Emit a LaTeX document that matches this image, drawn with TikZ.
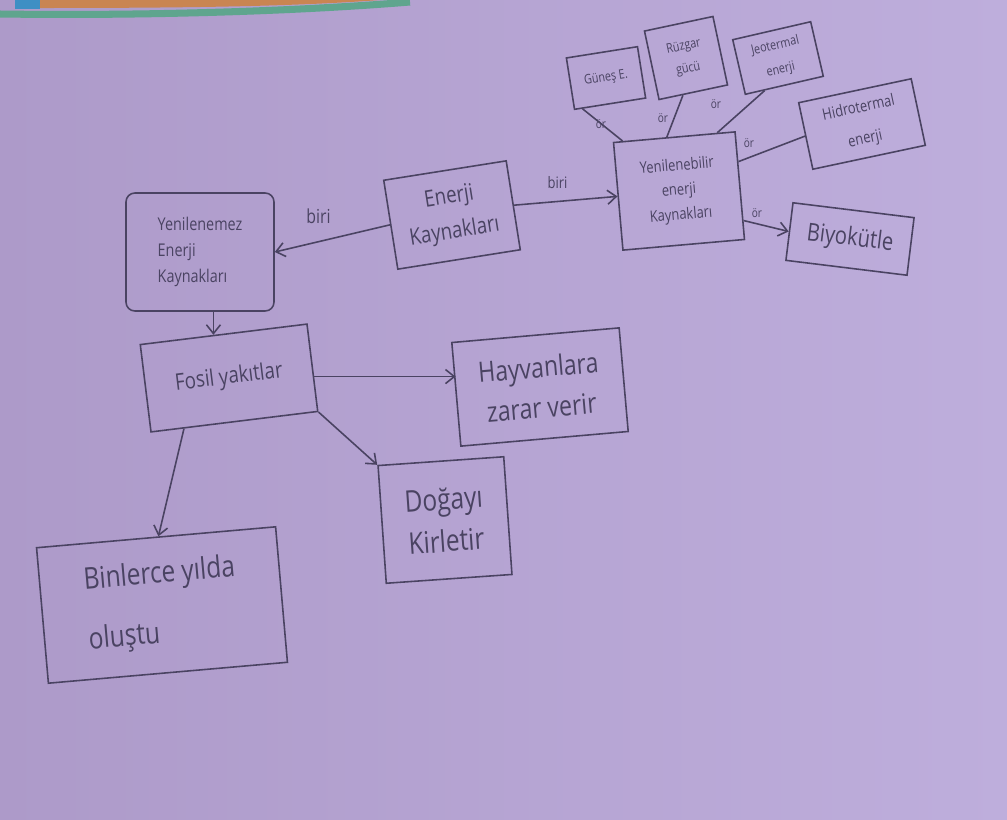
\documentclass[tikz,border=0pt]{standalone}
\usepackage{fontspec}
\setmainfont{Open Sans}[FakeStretch=0.82]
\usetikzlibrary{arrows.meta,calc}
\definecolor{paper}{HTML}{B6A5D4}
\definecolor{paperL}{HTML}{AD9AC9}
\definecolor{paperR}{HTML}{BEAEDC}
\definecolor{ink}{HTML}{4A4362}
\definecolor{tapeO}{HTML}{C98552}
\definecolor{tapeG}{HTML}{5FA58E}
\definecolor{tapeB}{HTML}{3E8FC4}
\begin{document}
\begin{tikzpicture}[x=0.02cm,y=-0.02cm,
  pen/.style={draw=ink, line width=0.9pt},
  box/.style={pen, rectangle, inner sep=2pt, align=center, text=ink},
  link/.style={pen},
  arr/.style={pen, -{Straight Barb[length=5pt,width=8pt]}},
  lbl/.style={text=ink, inner sep=1pt}]
\useasboundingbox (0,0) rectangle (1007,819);
% paper
\shade[left color=paperL, right color=paperR] (0,0) rectangle (1007,819);
% strip of the folder along the top edge
\fill[tapeO] (40,0) -- (380,0) .. controls (300,6) and (200,8) .. (40,8) -- cycle;
\fill[tapeB] (15,0) rectangle (40,9);
\draw[tapeG, line width=4pt] (0,14) .. controls (150,16) and (300,11) .. (410,2);

% main concept boxes
\node[box, rounded corners=5pt, minimum width=2.96cm, minimum height=2.36cm,
      font=\fontsize{10}{15}\selectfont, align=left] (yn) at (200,252)
      {Yenilenemez\\Enerji\\Kaynakları};
\node[box, rotate=9, minimum width=2.48cm, minimum height=1.8cm,
      font=\fontsize{13}{20}\selectfont] (ek) at (452,215) {Enerji\\Kaynakları};
\node[box, rotate=5, minimum width=2.44cm, minimum height=2.16cm,
      font=\fontsize{9}{14}\selectfont] (yb) at (679,191)
      {Yenilenebilir\\enerji\\Kaynakları};

% renewable examples
\node[box, rotate=9, minimum width=1.44cm, minimum height=1.04cm,
      font=\fontsize{7.5}{9}\selectfont] (gu) at (606,78) {Güneş E.};
\node[box, rotate=12, minimum width=1.4cm, minimum height=1.4cm,
      font=\fontsize{7.5}{13}\selectfont] (ru) at (686,58) {Rüzgar\\gücü};
\node[box, rotate=13, minimum width=1.6cm, minimum height=1.12cm,
      font=\fontsize{7.5}{14}\selectfont] (je) at (778,58) {Jeotermal\\enerji};
\node[box, rotate=12, minimum width=2.3cm, minimum height=1.36cm,
      font=\fontsize{9}{18}\selectfont] (hi) at (862,124) {Hidrotermal\\enerji};
\node[box, rotate=-7, minimum width=2.44cm, minimum height=1.16cm,
      font=\fontsize{14}{16}\selectfont] (bi) at (850,239) {Biyokütle};

% fossil fuels branch
\node[box, rotate=7, minimum width=3.36cm, minimum height=1.76cm,
      font=\fontsize{13}{16}\selectfont] (fo) at (229,378) {Fosil yakıtlar};
\node[box, rotate=5, minimum width=3.36cm, minimum height=2.08cm,
      font=\fontsize{16}{23}\selectfont] (ha) at (540,387) {Hayvanlara\\zarar verir};
\node[box, rotate=4, minimum width=2.52cm, minimum height=2.36cm,
      font=\fontsize{17}{24}\selectfont] (do) at (445,520) {Doğayı\\Kirletir};
\node[box, rotate=5, minimum width=4.8cm, minimum height=2.72cm,
      font=\fontsize{17}{34}\selectfont, align=left] (bn) at (162,605)
      {Binlerce yılda\\oluştu};

% top level links
\draw[arr] (ek.west) -- node[lbl, pos=0.62, above=9pt, font=\fontsize{11}{13}\selectfont] {biri} (yn.east);
\draw[arr] (ek.east) -- node[lbl, pos=0.42, above=6pt, font=\fontsize{9}{11}\selectfont] {biri} (yb.west);

% examples of renewable sources
\coordinate (ybA) at ($(yb.north west)!0.08!(yb.north east)$);
\coordinate (ybB) at ($(yb.north west)!0.44!(yb.north east)$);
\coordinate (ybC) at ($(yb.north west)!0.85!(yb.north east)$);
\coordinate (ybD) at ($(yb.north east)!0.28!(yb.south east)$);
\coordinate (ybE) at ($(yb.north east)!0.82!(yb.south east)$);
\draw[link] (ybA) -- ($(gu.south west)!0.12!(gu.south east)$);
\draw[link] (ybB) -- ($(ru.south west)!0.35!(ru.south east)$);
\draw[link] (ybC) -- ($(je.south west)!0.25!(je.south east)$);
\draw[link] (ybD) -- (hi.west);
\draw[arr] (ybE) -- (bi.west);
\node[lbl, font=\fontsize{7}{8}\selectfont] (o1) at (601,124) {ör};
\node[lbl, font=\fontsize{7}{8}\selectfont] (o2) at (663,118) {ör};
\node[lbl, font=\fontsize{7}{8}\selectfont] (o3) at (716,104) {ör};
\node[lbl, font=\fontsize{7}{8}\selectfont] (o4) at (749,143) {ör};
\node[lbl, font=\fontsize{7}{8}\selectfont] (o5) at (757,213) {ör};

% fossil fuel links
\coordinate (fotop) at ($(fo.north west)!0.44!(fo.north east)$);
\draw[arr] (yn.south -| fotop) -- (fotop);
\coordinate (foR) at ($(fo.east)!0.2!(fo.south east)$);
\draw[arr] (foR) -- (foR -| ha.west);
\draw[arr] (fo.south east) -- (do.north west);
\draw[arr] ($(fo.south west)!0.2!(fo.south east)$) -- ($(bn.north west)!0.51!(bn.north east)$);
\end{tikzpicture}
\end{document}
